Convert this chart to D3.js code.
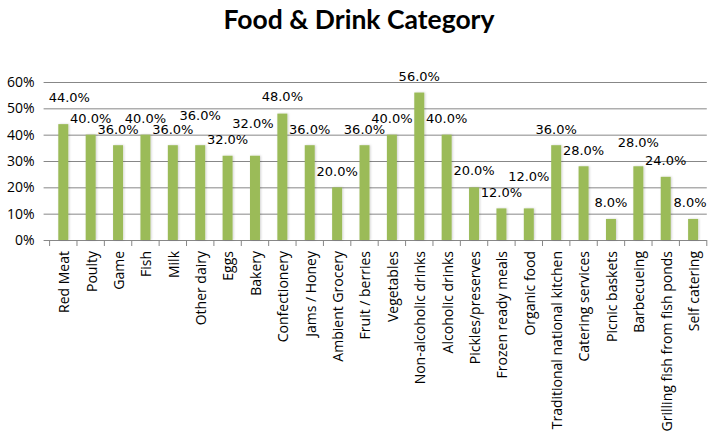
<!DOCTYPE html>
<html>
<head>
<meta charset="utf-8">
<script src="https://cdn.jsdelivr.net/npm/d3@7"></script>
<style>
  html, body { margin: 0; padding: 0; background: #fff; }
  svg { display: block; }
</style>
</head>
<body>
<div id="chart"></div>
<script>
// Data
const categories = [
  'Red Meat', 'Poulty', 'Game', 'Fish', 'Milk', 'Other dairy', 'Eggs', 'Bakery',
  'Confectionery', 'Jams / Honey', 'Ambient Grocery', 'Fruit / berries', 'Vegetables',
  'Non-alcoholic drinks', 'Alcoholic drinks', 'Pickles/preserves', 'Frozen ready meals',
  'Organic food', 'Traditional national kitchen', 'Catering services', 'Picnic baskets',
  'Barbecueing', 'Grilling fish from fish ponds', 'Self catering'
];
const shares = [
  0.44, 0.40, 0.36, 0.40, 0.36, 0.36, 0.32, 0.32,
  0.48, 0.36, 0.20, 0.36, 0.40,
  0.56, 0.40, 0.20, 0.12,
  0.12, 0.36, 0.28, 0.08,
  0.28, 0.24, 0.08
];
const yTicks = [0, 0.1, 0.2, 0.3, 0.4, 0.5, 0.6];

// Some data labels sit higher than the rest (label layout of the original)
const labelLift = [11, 0, 0, 0, 0, 14, 0, 16, 1, 0, 0, 0, 0, 0, 0, 1, 0, 16, 0, 0, 0, 8, 0, 0];
const labelShift = [6, 0, 0, 0, 0, 0, 0, -2, 0, 0, 0, 0, 0, 0, 0, 0, 0, 0, 0, 0, 0, 0, 0, -3];

const width = 708;
const height = 435;
const margin = { top: 82, right: 1, bottom: 195, left: 49.6 };

const svg = d3.select('#chart')
  .append('svg')
  .attr('width', width)
  .attr('height', height);

// soft halo around the bars
const defs = svg.append('defs');
const shadow = defs.append('filter')
  .attr('id', 'barShadow')
  .attr('x', '-50%').attr('y', '-10%')
  .attr('width', '200%').attr('height', '120%');
shadow.append('feDropShadow')
  .attr('dx', 1).attr('dy', 0)
  .attr('stdDeviation', 1.2)
  .attr('flood-color', '#000')
  .attr('flood-opacity', 0.18);

const x = d3.scaleBand()
  .domain(categories)
  .range([margin.left, width - margin.right - 0.2])
  .paddingInner(0.635)
  .paddingOuter(0.3175);

const y = d3.scaleLinear()
  .domain([0, 0.6])
  .range([height - margin.bottom, margin.top]);

// Title
svg.append('text')
  .attr('x', 359)
  .attr('y', 29)
  .attr('text-anchor', 'middle')
  .attr('font-family', 'Lato, "Open Sans", sans-serif')
  .attr('font-weight', 'bold')
  .attr('font-size', 26.5)
  .attr('fill', '#000')
  .text('Food & Drink Category');

// Gridlines + y labels
const yAxis = svg.append('g')
  .attr('transform', `translate(${margin.left},0)`)
  .call(d3.axisLeft(y)
    .tickValues(yTicks)
    .tickFormat(d3.format('.0%'))
    .tickSize(-(x.range()[1] - margin.left))
    .tickPadding(15));
yAxis.select('.domain').remove();
yAxis.selectAll('.tick line')
  .attr('x1', -6)
  .attr('stroke', '#878787')
  .attr('stroke-width', 1);
yAxis.selectAll('.tick text')
  .attr('font-family', '"Open Sans", sans-serif')
  .attr('font-size', 14)
  .attr('fill', '#000');

// Bars
svg.append('g')
  .selectAll('rect')
  .data(shares)
  .enter().append('rect')
  .attr('x', (d, i) => x(categories[i]))
  .attr('y', d => y(d))
  .attr('width', x.bandwidth())
  .attr('height', d => y(0) - y(d))
  .attr('fill', '#9BBB59')
  .attr('filter', 'url(#barShadow)');

// Category axis: tick marks at the category boundaries
const step = x.step();
const baseY = y(0);
svg.append('g')
  .selectAll('line')
  .data(d3.range(categories.length + 1))
  .enter().append('line')
  .attr('x1', i => margin.left + i * step)
  .attr('x2', i => margin.left + i * step)
  .attr('y1', baseY)
  .attr('y2', baseY + 6)
  .attr('stroke', '#878787');

// Rotated category labels
svg.append('g')
  .selectAll('text')
  .data(categories)
  .enter().append('text')
  .attr('transform', d => `translate(${x(d) + x.bandwidth() / 2 + 1},${baseY + 11}) rotate(-90)`)
  .attr('text-anchor', 'end')
  .attr('dy', '0.35em')
  .attr('font-family', '"Open Sans", sans-serif')
  .attr('font-size', 14)
  .attr('fill', '#000')
  .text(d => d);

// Data labels
svg.append('g')
  .selectAll('text')
  .data(shares)
  .enter().append('text')
  .attr('x', (d, i) => x(categories[i]) + x.bandwidth() / 2 + labelShift[i])
  .attr('y', (d, i) => y(d) - 16 - labelLift[i])
  .attr('dy', '0.35em')
  .attr('text-anchor', 'middle')
  .attr('font-family', '"DejaVu Sans", sans-serif')
  .attr('font-size', 13)
  .attr('fill', '#000')
  .text(d => d3.format('.1%')(d));
</script>
</body>
</html>
